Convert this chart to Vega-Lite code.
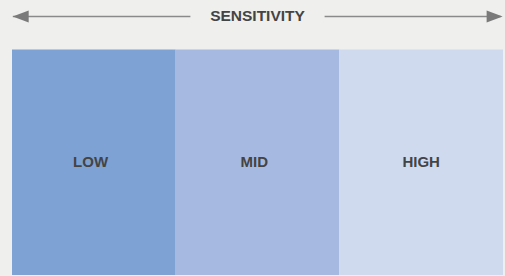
{
  "$schema": "https://vega.github.io/schema/vega-lite/v6.json",
  "width": 491,
  "height": 275,
  "autosize": {"type": "none"},
  "padding": {"left": 12, "right": 2, "top": 0, "bottom": 1},
  "background": "#eff0ed",
  "config": {"view": {"stroke": null}},
  "datasets": {
    "bands": [
      {"level": "LOW", "start": 0, "end": 1, "mid": 0.48, "bottom": 0, "top": 1},
      {"level": "MID", "start": 1, "end": 2, "mid": 1.48, "bottom": 0, "top": 1},
      {"level": "HIGH", "start": 2, "end": 3, "mid": 2.5, "bottom": 0, "top": 1}
    ],
    "axisline": [
      {"seg": "left", "x": 0.005, "y": 1.147},
      {"seg": "left", "x": 1.09, "y": 1.147},
      {"seg": "right", "x": 1.91, "y": 1.147},
      {"seg": "right", "x": 2.985, "y": 1.147}
    ],
    "heads": [
      {"side": "left", "x": 0.053, "y": 1.147},
      {"side": "right", "x": 2.949, "y": 1.147}
    ],
    "title": [
      {"label": "SENSITIVITY", "x": 1.5, "y": 1.147}
    ]
  },
  "layer": [
    {
      "data": {"name": "bands"},
      "mark": {"type": "rect"},
      "encoding": {
        "x": {"field": "start", "type": "quantitative", "scale": {"domain": [0, 3], "nice": false, "zero": false}, "axis": null},
        "x2": {"field": "end"},
        "y": {"field": "bottom", "type": "quantitative", "scale": {"domain": [0, 1.22], "nice": false, "zero": false}, "axis": null},
        "y2": {"field": "top"},
        "color": {"field": "level", "type": "nominal", "scale": {"domain": ["LOW", "MID", "HIGH"], "range": ["#7ea2d4", "#a6b9e0", "#cfdaee"]}, "legend": null}
      }
    },
    {
      "data": {"name": "bands"},
      "mark": {"type": "text", "font": "Liberation Sans", "fontWeight": "bold", "fontSize": 15, "color": "#444444", "align": "center", "baseline": "middle"},
      "encoding": {
        "x": {"field": "mid", "type": "quantitative"},
        "y": {"datum": 0.5, "type": "quantitative"},
        "text": {"field": "level"}
      }
    },
    {
      "data": {"name": "axisline"},
      "mark": {"type": "line", "color": "#8a8a8a", "strokeWidth": 1.5},
      "encoding": {
        "x": {"field": "x", "type": "quantitative"},
        "y": {"field": "y", "type": "quantitative"},
        "detail": {"field": "seg"}
      }
    },
    {
      "data": {"name": "heads"},
      "transform": [{"filter": "datum.side === 'left'"}],
      "mark": {"type": "point", "shape": "M -1 0 L 1 -0.75 L 1 0.75 Z", "filled": true, "color": "#7a7a7a", "opacity": 1, "size": 256},
      "encoding": {
        "x": {"field": "x", "type": "quantitative"},
        "y": {"field": "y", "type": "quantitative"}
      }
    },
    {
      "data": {"name": "heads"},
      "transform": [{"filter": "datum.side === 'right'"}],
      "mark": {"type": "point", "shape": "M 1 0 L -1 -0.75 L -1 0.75 Z", "filled": true, "color": "#7a7a7a", "opacity": 1, "size": 256},
      "encoding": {
        "x": {"field": "x", "type": "quantitative"},
        "y": {"field": "y", "type": "quantitative"}
      }
    },
    {
      "data": {"name": "title"},
      "mark": {"type": "text", "font": "Liberation Sans", "fontWeight": "bold", "fontSize": 15.5, "color": "#444444", "align": "center", "baseline": "middle"},
      "encoding": {
        "x": {"field": "x", "type": "quantitative"},
        "y": {"field": "y", "type": "quantitative"},
        "text": {"field": "label"}
      }
    }
  ]
}
